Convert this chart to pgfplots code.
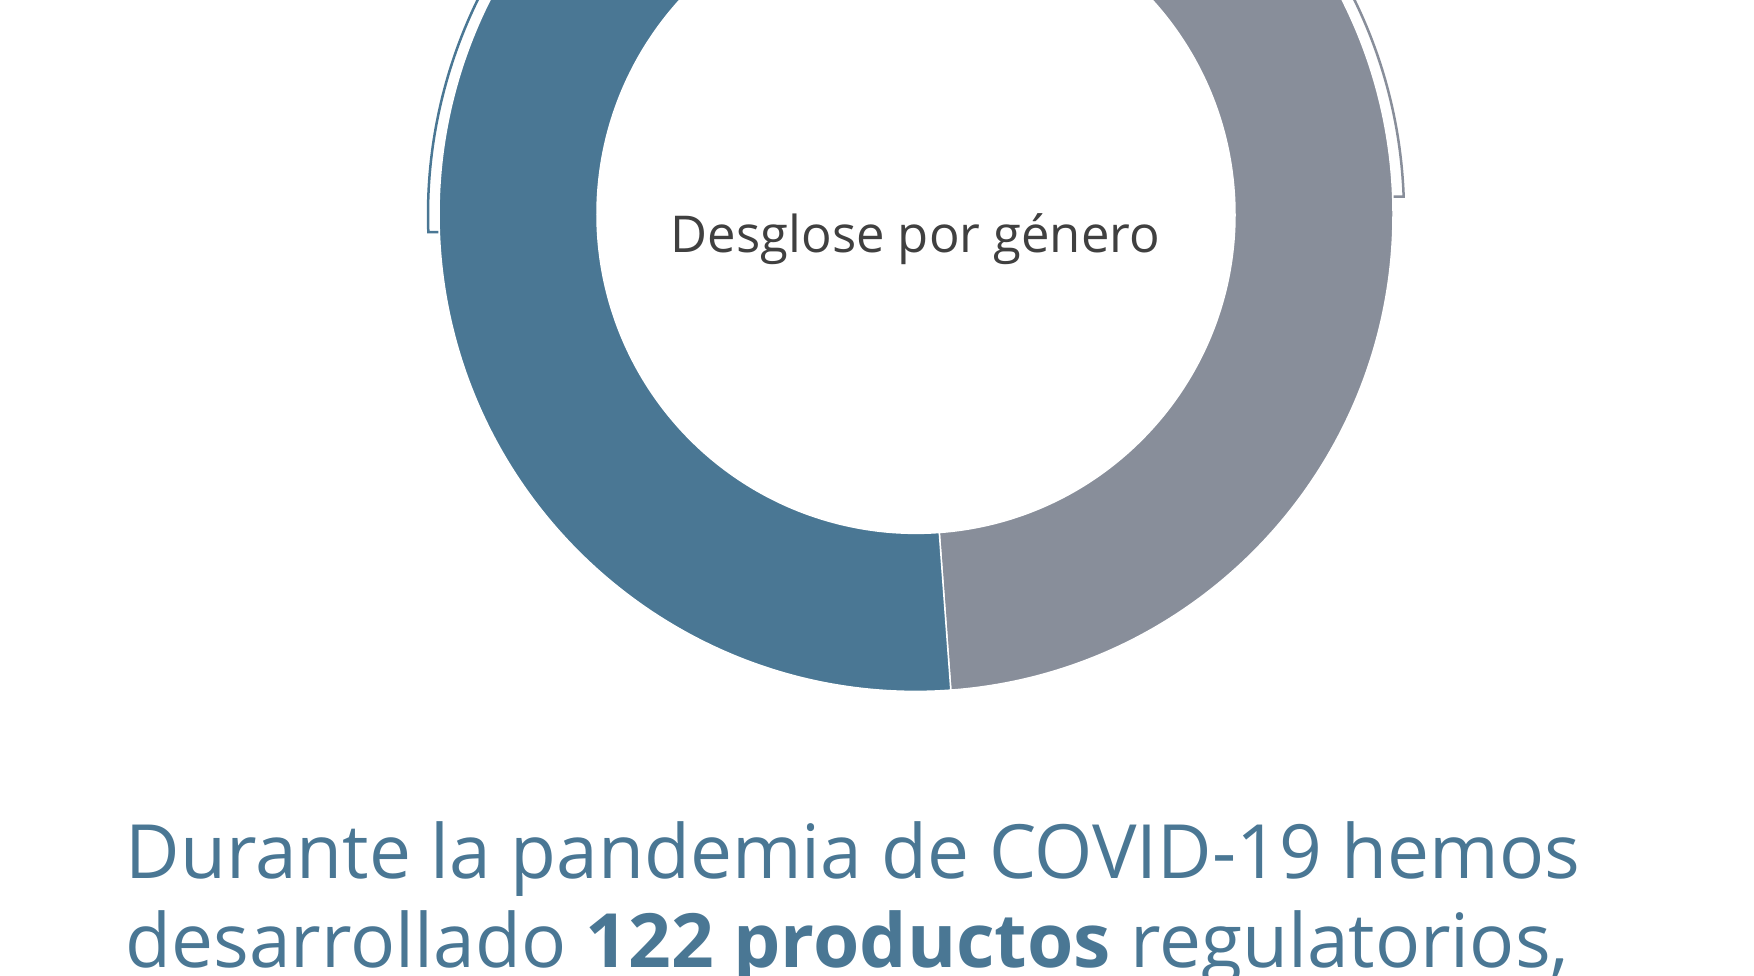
\documentclass[border=0pt]{standalone}
\usepackage{pgfplots}
\usepackage{pgfplotstable}
\pgfplotsset{compat=1.18}
\usepackage{fontspec}
\setmainfont{Open Sans}
\definecolor{donutblue}{HTML}{4A7794}
\definecolor{donutgray}{HTML}{888E9A}
\definecolor{titlegray}{HTML}{404040}
\pgfplotstableread{
label value
Mujeres 22
Hombres 21
}\gendertable
\begin{document}
\begin{tikzpicture}
\pgfplotstablegetelem{0}{value}\of\gendertable \let\va\pgfplotsretval
\pgfplotstablegetelem{1}{value}\of\gendertable \let\vb\pgfplotsretval
\pgfmathsetmacro{\tot}{\va+\vb}
\pgfmathsetmacro{\split}{90-360*\vb/\tot}
\pgfmathsetmacro{\midgray}{90-180*\vb/\tot}
\pgfmathsetmacro{\midblue}{\split-180*\va/\tot+360}
\path[use as bounding box] (0,0) rectangle (17.54,9.76);
\clip (0,0) rectangle (17.54,9.76);
\begin{axis}[hide axis, x=1cm, y=1cm, xmin=-5, xmax=5, ymin=-5, ymax=5,
  at={(9.16cm,7.616cm)}, anchor=center, clip=false]
\def\ro{4.77}
\def\ri{3.19}
\def\rb{4.88}
% gray segment (from 12 o'clock clockwise)
\fill[donutgray, draw=white, line width=0.15mm]
  (axis cs:{\ro*cos(90)},{\ro*sin(90)}) arc[start angle=90, end angle=\split, radius=\ro]
  -- (axis cs:{\ri*cos(\split)},{\ri*sin(\split)}) arc[start angle=\split, end angle=90, radius=\ri] -- cycle;
% blue segment
\fill[donutblue, draw=white, line width=0.15mm]
  (axis cs:{\ro*cos(\split)},{\ro*sin(\split)}) arc[start angle=\split, end angle=-270, radius=\ro]
  -- (axis cs:{\ri*cos(-270)},{\ri*sin(-270)}) arc[start angle=-270, end angle=\split, radius=\ri] -- cycle;
% bracket arcs
\draw[donutgray, line width=0.25mm]
  (axis cs:{\rb*cos(92)},{\rb*sin(92)}) arc[start angle=92, end angle=\midgray, radius=\rb]
  -- (axis cs:{\rb*cos(\midgray)-0.1},{\rb*sin(\midgray)});
\draw[donutblue, line width=0.25mm]
  (axis cs:{\rb*cos(88)},{\rb*sin(88)}) arc[start angle=88, end angle=\midblue, radius=\rb]
  -- (axis cs:{\rb*cos(\midblue)+0.1},{\rb*sin(\midblue)});
\end{axis}
\node[anchor=base, text=titlegray, font=\fontsize{14.45pt}{17pt}\selectfont, inner sep=0pt]
  at (9.155,7.23) {Desglose por género};
\node[anchor=base west, text=donutblue, font=\fontsize{21.3pt}{25pt}\selectfont, inner sep=0pt]
  at (1.25,0.97) {Durante la pandemia de COVID-19 hemos};
\node[anchor=base west, text=donutblue, font=\fontsize{21.3pt}{25pt}\selectfont, inner sep=0pt]
  at (1.25,0.08) {desarrollado \textbf{122 productos} regulatorios,};
\end{tikzpicture}
\end{document}
